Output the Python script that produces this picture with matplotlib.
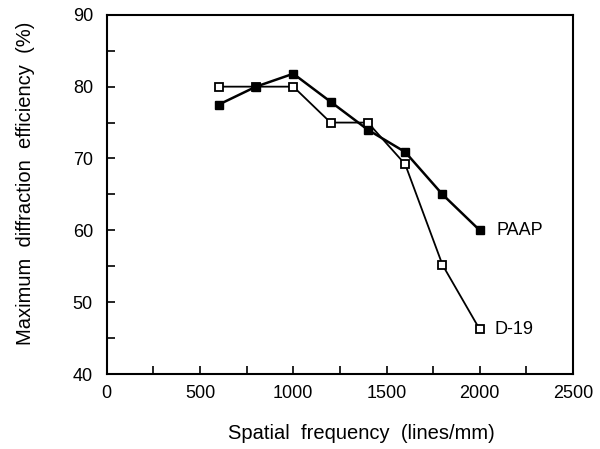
import numpy as np
import matplotlib
matplotlib.use('Agg')
import matplotlib.pyplot as plt
from matplotlib.ticker import MultipleLocator

# Data
freq = [600, 800, 1000, 1200, 1400, 1600, 1800, 2000]
paap = [77.5, 80.0, 81.8, 77.9, 74.0, 70.9, 65.0, 60.0]
d19 = [80.0, 80.0, 80.0, 75.0, 75.0, 69.2, 55.2, 46.2]

plt.rcParams['font.family'] = ['Liberation Sans', 'DejaVu Sans']

fig = plt.figure(figsize=(6.0, 4.49), dpi=100)
ax = fig.add_axes([0.178, 0.167, 0.777, 0.8])

ax.plot(freq, d19, color='black', lw=1.3, marker='s', ms=5.5,
        mfc='white', mec='black', mew=1.3, zorder=3)
ax.plot(freq, paap, color='black', lw=1.8, marker='s', ms=6,
        mfc='black', mec='black', zorder=4)

ax.text(2090, paap[-1], 'PAAP', fontsize=13, va='center', ha='left')
ax.text(2080, d19[-1], 'D-19', fontsize=13, va='center', ha='left')

ax.set_xlim(0, 2500)
ax.set_ylim(40, 90)
ax.xaxis.set_major_locator(MultipleLocator(500))
ax.xaxis.set_minor_locator(MultipleLocator(250))
ax.yaxis.set_major_locator(MultipleLocator(10))
ax.yaxis.set_minor_locator(MultipleLocator(5))
ax.tick_params(which='both', direction='in', labelsize=13, width=1.2)
ax.tick_params(which='major', length=6)
ax.tick_params(which='minor', length=6)
ax.tick_params(axis='x', pad=8)
ax.tick_params(axis='y', pad=10)
for s in ax.spines.values():
    s.set_linewidth(1.5)

ax.set_xlabel('Spatial  frequency  (lines/mm)', fontsize=14.5)
ax.set_ylabel('Maximum  diffraction  efficiency  (%)', fontsize=14.5)
ax.xaxis.set_label_coords(0.545, -0.14)
ax.yaxis.set_label_coords(-0.154, 0.53)

fig.savefig('out.png', dpi=100)
